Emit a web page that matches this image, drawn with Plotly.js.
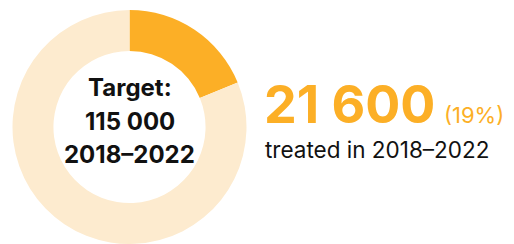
<!DOCTYPE html>
<html><head><meta charset="utf-8">
<script src="https://cdn.plot.ly/plotly-3.0.1.min.js"></script>
<style>html,body{margin:0;padding:0;background:#fff}#chart{width:514px;height:244px}</style>
</head><body><div id="chart"></div>
<script>
const labels = ["Treated 2018–2022", "Remaining to target"];
const values = [21600, 93400];
const colors = ["#FCAF26", "#FDEBCF"];
const centerLines = ["Target:", "115 000", "2018–2022"];
const bigNumber = "21 600";
const pctText = "(19%)";
const subText = "treated in 2018–2022";

const W = 514, H = 244;
const py = y => 1 - y / H;
const px = x => x / W;
const font = "Inter, 'Noto Sans', sans-serif";

const annotations = [];
const centerY = [88, 121, 154];
centerLines.forEach((t, i) => annotations.push({
  text: "<b>" + t + "</b>", xref: "paper", yref: "paper", x: px(129.5), y: py(centerY[i]),
  xanchor: "center", yanchor: "middle", showarrow: false,
  font: {family: font, size: 24, color: "#111111"}
}));
annotations.push({
  text: "<b>" + bigNumber + "</b>", xref: "paper", yref: "paper", x: px(262), y: py(104),
  xanchor: "left", yanchor: "middle", showarrow: false,
  font: {family: font, size: 52, color: "#FCAF26"}
});
annotations.push({
  text: pctText, xref: "paper", yref: "paper", x: px(442), y: py(115),
  xanchor: "left", yanchor: "middle", showarrow: false,
  font: {family: font, size: 22, color: "#FCAF26"}
});
annotations.push({
  text: subText, xref: "paper", yref: "paper", x: px(263), y: py(149),
  xanchor: "left", yanchor: "middle", showarrow: false,
  font: {family: font, size: 22.5, color: "#111111"}
});

Plotly.newPlot("chart", [{
  type: "pie", labels: labels, values: values, hole: 0.65,
  sort: false, direction: "clockwise", rotation: 0,
  marker: {colors: colors, line: {width: 0}},
  textinfo: "none", hoverinfo: "none",
  domain: {x: [px(12.5), px(246.5)], y: [py(244), py(10)]}
}], {
  width: W, height: H, margin: {l: 0, r: 0, t: 0, b: 0},
  showlegend: false, paper_bgcolor: "#fff", annotations: annotations
}, {staticPlot: true});
</script></body></html>
